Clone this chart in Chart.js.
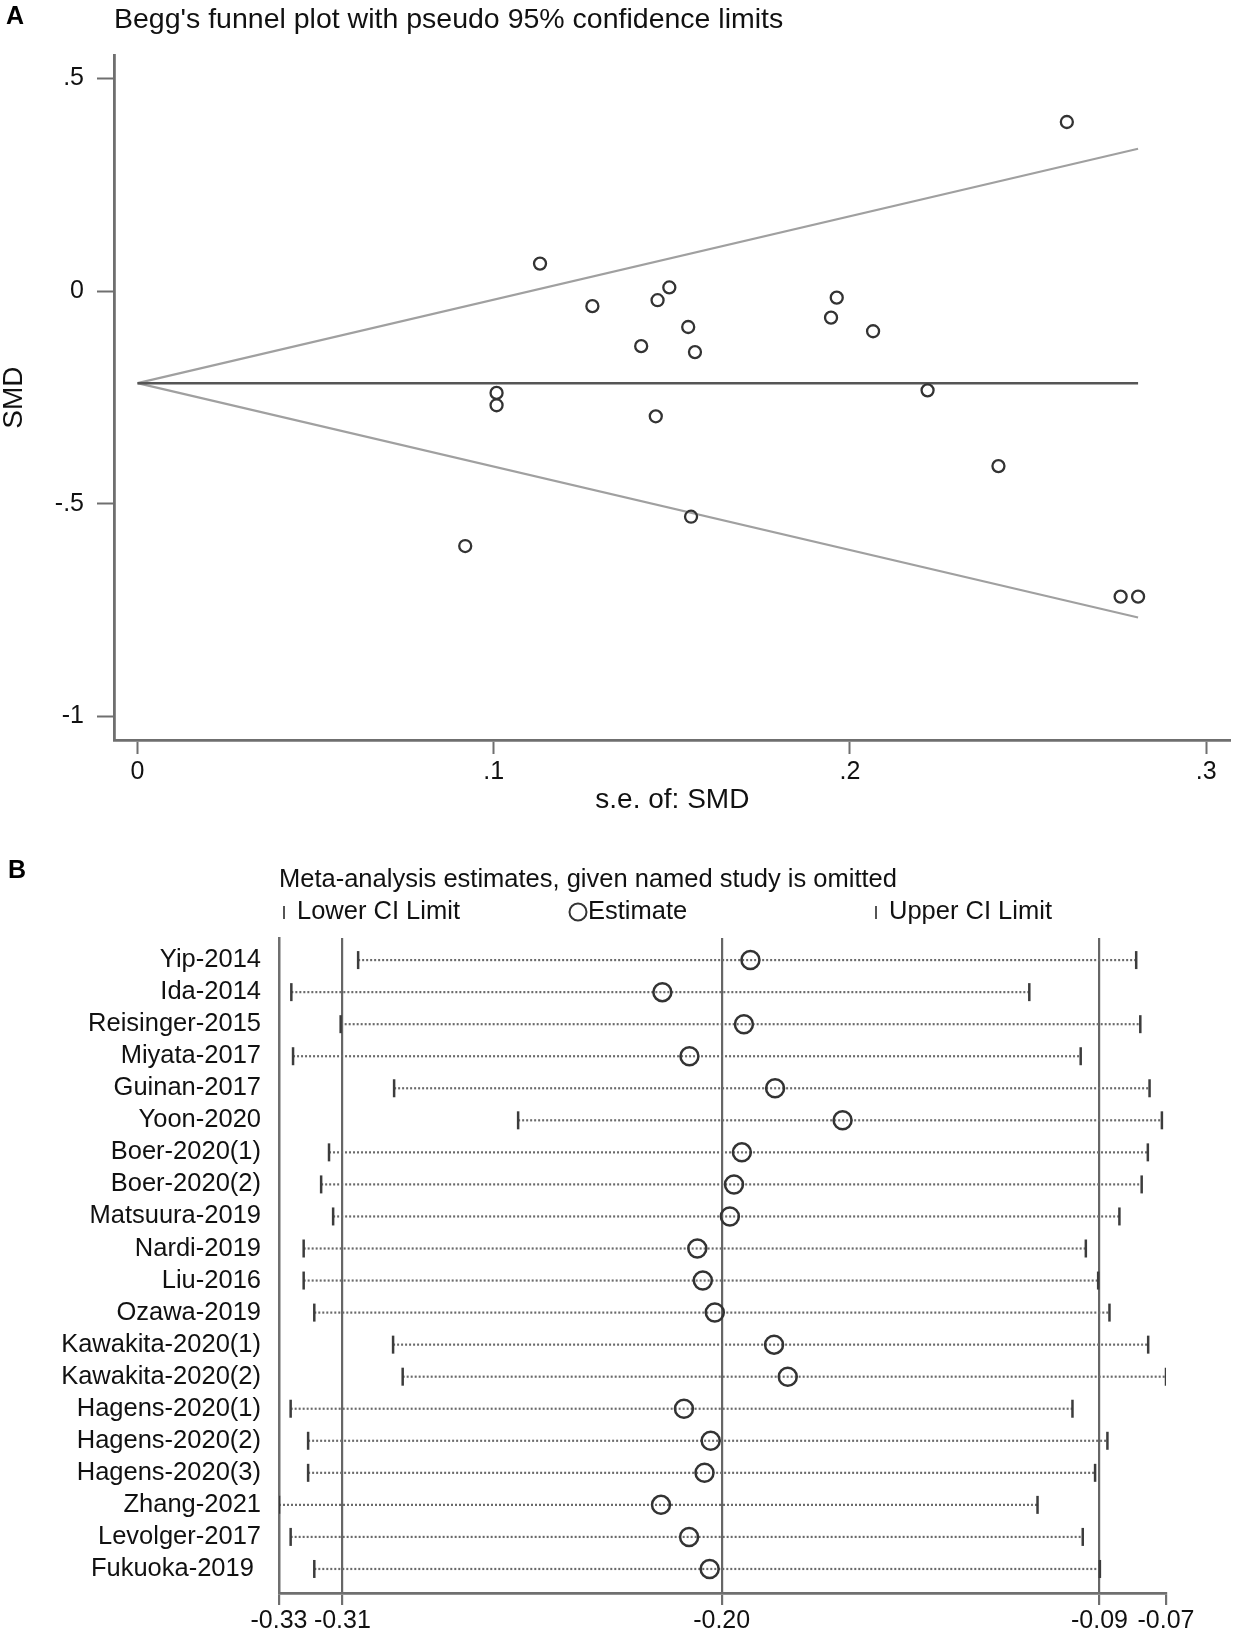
<!DOCTYPE html>
<html>
<head>
<meta charset="utf-8">
<script src="https://cdn.jsdelivr.net/npm/chart.js@4.4.1/dist/chart.umd.min.js"></script>
<style>
  html, body { margin: 0; padding: 0; background: #ffffff; }
  body { width: 1239px; height: 1633px; position: relative; overflow: hidden; }
  canvas { position: absolute; left: 0; }
  #chartA { top: 0px; }
  #chartB { top: 840px; }
</style>
</head>
<body>
<canvas id="chartA" width="1239" height="814"></canvas>
<canvas id="chartB" width="1239" height="793"></canvas>
<script>
// ---------------- Panel A : Begg's funnel plot ----------------
const studySE  = [0.2609, 0.1493, 0.1460, 0.1963, 0.1947, 0.1546, 0.2065, 0.1414, 0.1565, 0.2218,
                  0.1130, 0.1277, 0.1008, 0.1008, 0.0920, 0.1455, 0.2417, 0.1554, 0.2760, 0.2809];
const studySMD = [0.398, 0.009, -0.021, -0.015, -0.062, -0.084, -0.094, -0.129, -0.143, -0.233,
                  0.065, -0.035, -0.239, -0.268, -0.599, -0.294, -0.411, -0.530, -0.718, -0.718];
const pooledSMD = -0.216;
const funnelSE  = [0, 0.2809];
const upperLimit = [-0.216, 0.335];
const lowerLimit = [-0.216, -0.767];
const aXTickValues = [0, 0.1, 0.2, 0.3];
const aXTickLabels = ["0", ".1", ".2", ".3"];
const aYTickValues = [0.5, 0, -0.5, -1];
const aYTickLabels = [".5", "0", "-.5", "-1"];

// ---------------- Panel B : influence analysis ----------------
const studies = ["Yip-2014", "Ida-2014", "Reisinger-2015", "Miyata-2017", "Guinan-2017", "Yoon-2020",
                 "Boer-2020(1)", "Boer-2020(2)", "Matsuura-2019", "Nardi-2019", "Liu-2016", "Ozawa-2019",
                 "Kawakita-2020(1)", "Kawakita-2020(2)", "Hagens-2020(1)", "Hagens-2020(2)", "Hagens-2020(3)",
                 "Zhang-2021", "Levolger-2017", "Fukuoka-2019 "];
const lowerCI  = [-0.3069, -0.3264, -0.3120, -0.3259, -0.2964, -0.2602, -0.3154, -0.3177, -0.3142, -0.3228,
                  -0.3228, -0.3197, -0.2967, -0.2939, -0.3266, -0.3215, -0.3215, -0.3300, -0.3266, -0.3197];
const estimate = [-0.1924, -0.2181, -0.1943, -0.2102, -0.1852, -0.1655, -0.1949, -0.1972, -0.1984, -0.2079,
                  -0.2063, -0.2028, -0.1855, -0.1815, -0.2118, -0.2040, -0.2058, -0.2185, -0.2103, -0.2043];
const upperCI  = [-0.0798, -0.1110, -0.0786, -0.0960, -0.0759, -0.0723, -0.0764, -0.0782, -0.0847, -0.0945,
                  -0.0909, -0.0876, -0.0763, -0.0711, -0.0984, -0.0882, -0.0918, -0.1086, -0.0954, -0.0904];
const bTickValues = [-0.33, -0.3115, -0.2008, -0.0905, -0.0711];
const bTickLabels = ["-0.33", "-0.31", "-0.20", "-0.09", "-0.07"];
const refLineIdx = [1, 2, 3];

const FONT = "'Liberation Sans', Arial, Helvetica, sans-serif";
const TXT = '#111111';
const AXIS = '#6f6f6f';

const panelLetter = (letter, x, y) => ({
  id: 'panelLetter' + letter,
  afterDraw(chart) {
    const ctx = chart.ctx;
    ctx.save();
    ctx.font = 'bold 25px ' + FONT;
    ctx.fillStyle = '#000';
    ctx.textAlign = 'left';
    ctx.textBaseline = 'middle';
    ctx.fillText(letter, x, y);
    ctx.restore();
  }
});

// ---------- Chart A ----------
new Chart(document.getElementById('chartA'), {
  type: 'scatter',
  data: {
    datasets: [
      {
        label: 'studies',
        data: studySE.map((s, i) => ({ x: s, y: studySMD[i] })),
        pointStyle: 'circle', pointRadius: 6, pointBorderWidth: 2.3,
        pointBorderColor: '#333333', pointBackgroundColor: 'rgba(0,0,0,0)',
        order: 0
      },
      {
        type: 'line', label: 'pooled',
        data: funnelSE.map(s => ({ x: s, y: pooledSMD })),
        borderColor: '#555555', borderWidth: 2.5, pointRadius: 0, order: 1
      },
      {
        type: 'line', label: 'upper',
        data: funnelSE.map((s, i) => ({ x: s, y: upperLimit[i] })),
        borderColor: '#a0a0a0', borderWidth: 2.2, pointRadius: 0, order: 2
      },
      {
        type: 'line', label: 'lower',
        data: funnelSE.map((s, i) => ({ x: s, y: lowerLimit[i] })),
        borderColor: '#a0a0a0', borderWidth: 2.2, pointRadius: 0, order: 2
      }
    ]
  },
  options: {
    responsive: false, animation: false, devicePixelRatio: 1,
    layout: { padding: { left: 0, right: 4, top: 0, bottom: 0 } },
    plugins: {
      legend: { display: false }, tooltip: { enabled: false },
      title: {
        display: true, text: "Begg's funnel plot with pseudo 95% confidence limits",
        align: 'start', fullSize: false, color: TXT,
        font: { family: FONT, size: 28.5, weight: 'normal', lineHeight: 1.2 },
        padding: { top: 3, bottom: 18 }
      }
    },
    scales: {
      x: {
        type: 'linear', min: -0.0066, max: 0.3069,
        afterBuildTicks: s => { s.ticks = aXTickValues.map(v => ({ value: v })); },
        afterFit: s => { s.height = 74; },
        ticks: {
          autoSkip: false, maxRotation: 0, padding: 3, color: TXT,
          font: { family: FONT, size: 25 },
          callback: (v, i) => aXTickLabels[i]
        },
        grid: { display: true, drawOnChartArea: false, drawTicks: true, tickLength: 14, tickColor: AXIS, tickWidth: 2 },
        border: { display: true, color: AXIS, width: 2.8 },
        title: { display: true, text: 's.e. of: SMD', color: TXT, font: { family: FONT, size: 28, lineHeight: 1 }, padding: 0 }
      },
      y: {
        type: 'linear', min: -1.055, max: 0.555,
        afterBuildTicks: s => { s.ticks = aYTickValues.map(v => ({ value: v })); },
        afterFit: s => { s.width = 114; },
        ticks: {
          autoSkip: false, padding: 13, color: TXT,
          font: { family: FONT, size: 25 },
          callback: (v, i) => aYTickLabels[i]
        },
        grid: { display: true, drawOnChartArea: false, drawTicks: true, tickLength: 17, tickColor: AXIS, tickWidth: 2 },
        border: { display: true, color: AXIS, width: 2.8 },
        title: { display: true, text: 'SMD', color: TXT, font: { family: FONT, size: 28, lineHeight: 1 }, padding: 0 }
      }
    }
  },
  plugins: [panelLetter('A', 6, 17)]
});

// ---------- Chart B ----------
const rowLineSets = studies.map((s, i) => ({
  type: 'line', label: 'ci-' + s,
  data: [{ x: lowerCI[i], y: i + 1 }, { x: upperCI[i], y: i + 1 }],
  borderColor: '#6a6a6a', borderWidth: 2.2, borderDash: [2, 2], pointRadius: 0, order: 3
}));

const legendB = {
  id: 'legendB',
  afterDraw(chart) {
    const ctx = chart.ctx;
    const y = 72;
    ctx.save();
    ctx.font = '25.5px ' + FONT;
    ctx.fillStyle = TXT;
    ctx.textBaseline = 'middle';
    ctx.textAlign = 'left';
    ctx.strokeStyle = '#555';
    ctx.lineWidth = 2;
    // Lower CI marker
    ctx.beginPath(); ctx.moveTo(284, y - 6); ctx.lineTo(284, y + 7); ctx.stroke();
    ctx.fillText('Lower CI Limit', 297, y);
    // Estimate marker
    ctx.strokeStyle = '#333';
    ctx.beginPath(); ctx.arc(578, y, 8.5, 0, Math.PI * 2); ctx.stroke();
    ctx.fillText('Estimate', 588, y);
    // Upper CI marker
    ctx.strokeStyle = '#555';
    ctx.beginPath(); ctx.moveTo(876, y - 6); ctx.lineTo(876, y + 7); ctx.stroke();
    ctx.fillText('Upper CI Limit', 889, y);
    ctx.restore();
  }
};

new Chart(document.getElementById('chartB'), {
  type: 'scatter',
  data: {
    datasets: [
      {
        label: 'estimate',
        data: estimate.map((v, i) => ({ x: v, y: i + 1 })),
        pointStyle: 'circle', pointRadius: 9, pointBorderWidth: 2.5,
        pointBorderColor: '#333333', pointBackgroundColor: 'rgba(0,0,0,0)', order: 0
      },
      {
        label: 'lower',
        data: lowerCI.map((v, i) => ({ x: v, y: i + 1 })),
        pointStyle: 'line', rotation: 90, pointRadius: 9, pointBorderWidth: 2.5,
        pointBorderColor: '#3c3c3c', order: 1
      },
      {
        label: 'upper',
        data: upperCI.map((v, i) => ({ x: v, y: i + 1 })),
        pointStyle: 'line', rotation: 90, pointRadius: 9, pointBorderWidth: 2.5,
        pointBorderColor: '#3c3c3c', order: 1
      },
      ...rowLineSets
    ]
  },
  options: {
    responsive: false, animation: false, devicePixelRatio: 1,
    layout: { padding: { left: 0, right: 73, top: 0, bottom: 0 } },
    plugins: {
      legend: { display: false }, tooltip: { enabled: false },
      title: {
        display: true, text: 'Meta-analysis estimates, given named study is omitted',
        align: 'start', fullSize: false, color: TXT,
        font: { family: FONT, size: 25.5, weight: 'normal', lineHeight: 1.2 },
        padding: { top: 25, bottom: 42.5 }
      }
    },
    scales: {
      x: {
        type: 'linear', min: bTickValues[0], max: bTickValues[bTickValues.length - 1],
        afterBuildTicks: s => { s.ticks = bTickValues.map(v => ({ value: v })); },
        afterFit: s => { s.height = 40; },
        ticks: {
          autoSkip: false, maxRotation: 0, padding: 1, color: TXT,
          font: { family: FONT, size: 25 },
          callback: (v, i) => bTickLabels[i]
        },
        grid: {
          display: true, drawOnChartArea: true, drawTicks: true, tickLength: 12,
          color: c => (refLineIdx.includes(c.index) ? '#666666' : 'rgba(0,0,0,0)'),
          lineWidth: 2.2, tickColor: AXIS, tickWidth: 2.2
        },
        border: { display: true, color: AXIS, width: 2.8 }
      },
      y: {
        type: 'linear', reverse: true, min: 0.314, max: 20.75,
        afterBuildTicks: s => { s.ticks = studies.map((n, i) => ({ value: i + 1 })); },
        afterFit: s => { s.width = 279; },
        ticks: {
          autoSkip: false, padding: 18, color: TXT,
          font: { family: FONT, size: 25.5 },
          callback: (v, i) => studies[i]
        },
        grid: { display: false, drawTicks: false },
        border: { display: true, color: AXIS, width: 2.5 }
      }
    }
  },
  plugins: [panelLetter('B', 8, 31), legendB]
});
</script>
</body>
</html>
